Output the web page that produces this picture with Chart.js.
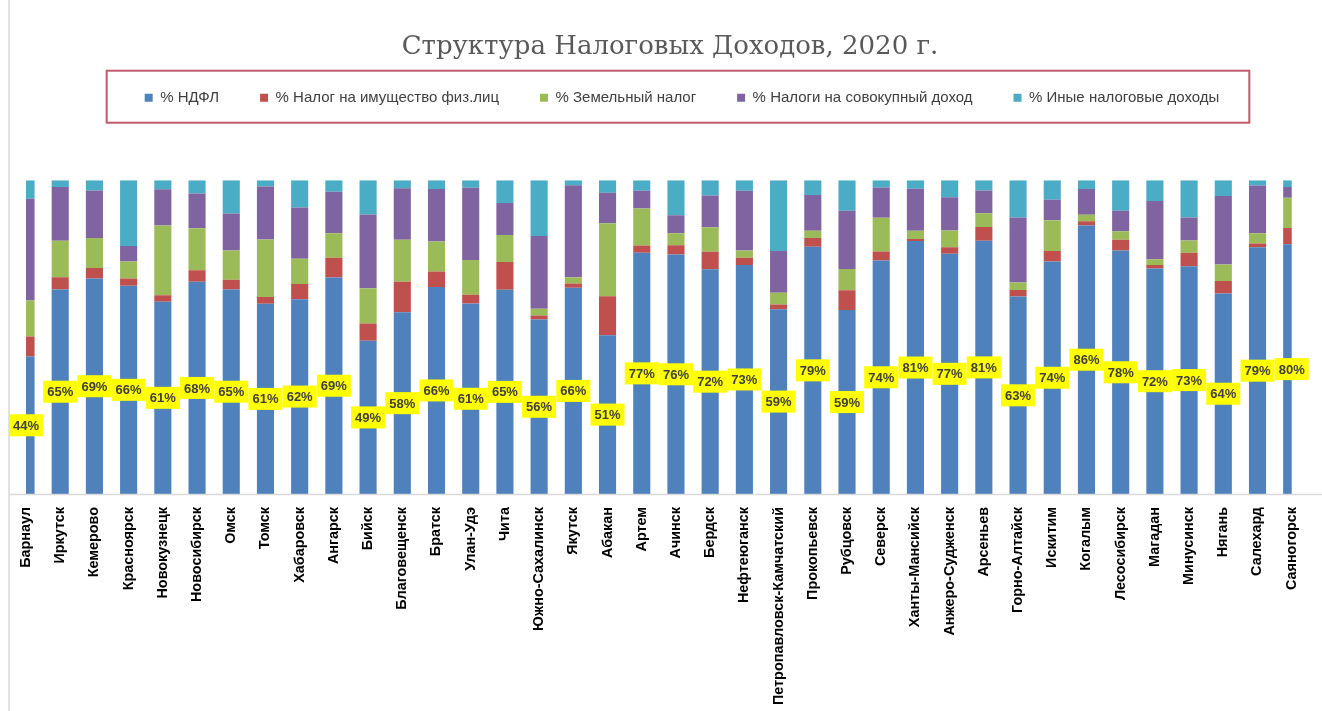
<!DOCTYPE html>
<html lang="ru">
<head>
<meta charset="utf-8">
<title>Структура налоговых доходов, 2020</title>
<script src="https://cdn.jsdelivr.net/npm/chart.js@4.4.0/dist/chart.umd.min.js"></script>
<style>
  html, body { margin: 0; padding: 0; background: #fff; }
  #wrap { width: 1322px; height: 711px; }
</style>
</head>
<body>
<div id="wrap"><canvas id="taxChart" width="1322" height="711"></canvas></div>
<script>
const cities = ['Барнаул', 'Иркутск', 'Кемерово', 'Красноярск', 'Новокузнецк', 'Новосибирск', 'Омск', 'Томск',
  'Хабаровск', 'Ангарск', 'Бийск', 'Благовещенск', 'Братск', 'Улан-Удэ', 'Чита', 'Южно-Сахалинск', 'Якутск',
  'Абакан', 'Артем', 'Ачинск', 'Бердск', 'Нефтеюганск', 'Петропавловск-Камчатский', 'Прокопьевск', 'Рубцовск',
  'Северск', 'Ханты-Мансийск', 'Анжеро-Судженск', 'Арсеньев', 'Горно-Алтайск', 'Искитим', 'Когалым',
  'Лесосибирск', 'Магадан', 'Минусинск', 'Нягань', 'Салехард', 'Саяногорск'];

// shares of tax income, %
const ndfl = [43.8, 65.2, 68.7, 66.4, 61.3, 67.6, 65.2, 60.6, 62.1, 69.0, 48.8, 57.9, 66.0, 60.7, 65.1, 55.6, 65.7,
  50.6, 76.9, 76.3, 71.6, 73.0, 58.9, 78.8, 58.6, 74.4, 80.6, 76.6, 80.7, 62.9, 74.1, 85.6, 77.6, 71.9, 72.6, 63.9, 78.6, 79.6];
const propertyTax = [6.4, 3.9, 3.3, 2.3, 2.0, 3.7, 3.1, 2.2, 4.8, 6.3, 5.5, 9.7, 4.9, 2.8, 8.8, 1.3, 1.4,
  12.4, 2.3, 3.0, 5.6, 2.3, 1.5, 2.8, 6.3, 2.9, 0.7, 2.0, 4.4, 2.1, 3.3, 1.3, 3.4, 1.1, 4.3, 4.0, 1.2, 5.2];
const landTax = [11.5, 11.6, 9.6, 5.4, 22.3, 13.4, 9.3, 18.3, 8.1, 7.8, 11.3, 13.4, 9.6, 11.1, 8.6, 2.1, 2.0,
  23.3, 11.8, 3.8, 7.8, 2.3, 3.7, 2.3, 6.8, 10.7, 2.6, 5.4, 4.4, 2.4, 9.8, 2.1, 2.7, 1.8, 3.9, 5.2, 3.3, 9.6];
const aggregateIncome = [32.4, 17.1, 15.1, 4.9, 11.5, 11.1, 11.8, 16.9, 16.3, 13.2, 23.5, 16.4, 16.7, 23.0, 10.2, 23.2, 29.3,
  9.7, 5.6, 5.7, 10.1, 19.0, 13.3, 11.4, 18.6, 9.7, 13.4, 10.6, 7.2, 20.7, 6.6, 8.2, 6.6, 18.6, 7.3, 21.9, 15.2, 3.4];
const otherTax = [5.9, 2.2, 3.3, 21.0, 2.9, 4.2, 10.6, 2.0, 8.7, 3.7, 10.9, 2.6, 2.8, 2.4, 7.3, 17.8, 1.6,
  4.0, 3.4, 11.2, 4.9, 3.4, 22.6, 4.7, 9.7, 2.3, 2.7, 5.4, 3.3, 11.9, 6.2, 2.8, 9.7, 6.6, 11.9, 5.0, 1.7, 2.2];

// yellow percent labels on the NDFL segment
const ndflLabels = {
  id: 'ndflLabels',
  afterDatasetsDraw(chart) {
    const ctx = chart.ctx;
    const meta = chart.getDatasetMeta(0);
    ctx.save();
    ctx.font = 'bold 13px "Liberation Sans", Arial, sans-serif';
    ctx.textAlign = 'center';
    ctx.textBaseline = 'middle';
    meta.data.forEach((bar, i) => {
      const { x, y, base } = bar.getProps(['x', 'y', 'base'], true);
      const cy = (y + base) / 2;
      const text = Math.round(ndfl[i]) + '%';
      const w = ctx.measureText(text).width + 8;
      ctx.fillStyle = '#ffff00';
      ctx.fillRect(x - w / 2, cy - 11, w, 22);
      ctx.fillStyle = '#404040';
      ctx.fillText(text, x, cy + 1);
    });
    ctx.restore();
  }
};

// nudge the legend a bit to the right, like in the original
const legendShift = {
  id: 'legendShift',
  afterLayout(chart) {
    chart.legend.left += 12;
    chart.legend.right += 12;
  }
};

// frame around the legend and the chart border lines
const frames = {
  id: 'frames',
  afterDraw(chart) {
    const ctx = chart.ctx;
    const boxes = chart.legend.legendHitBoxes;
    ctx.save();
    if (boxes && boxes.length) {
      const left = Math.min(...boxes.map(b => b.left)) - 38;
      const right = Math.max(...boxes.map(b => b.left + b.width)) + 30;
      const mid = boxes[0].top + boxes[0].height / 2;
      ctx.strokeStyle = '#c05a6c';
      ctx.lineWidth = 2;
      ctx.strokeRect(left, mid - 27, right - left, 52);
    }
    ctx.strokeStyle = '#d9d9d9';
    ctx.lineWidth = 1.5;
    ctx.beginPath();
    ctx.moveTo(9, 0);
    ctx.lineTo(9, chart.height);
    ctx.moveTo(9, chart.chartArea.bottom + 0.5);
    ctx.lineTo(chart.width, chart.chartArea.bottom + 0.5);
    ctx.stroke();
    ctx.restore();
  }
};

const ctx = document.getElementById('taxChart').getContext('2d');
new Chart(ctx, {
  type: 'bar',
  data: {
    labels: cities,
    datasets: [
      { label: '% НДФЛ', data: ndfl, backgroundColor: '#4f81bd' },
      { label: '% Налог на имущество физ.лиц', data: propertyTax, backgroundColor: '#c0504d' },
      { label: '% Земельный налог', data: landTax, backgroundColor: '#9bbb59' },
      { label: '% Налоги на совокупный доход', data: aggregateIncome, backgroundColor: '#8064a2' },
      { label: '% Иные налоговые доходы', data: otherTax, backgroundColor: '#4bacc6' }
    ]
  },
  options: {
    responsive: false,
    animation: false,
    layout: { padding: { left: 26, right: 8, top: 0, bottom: 0 } },
    datasets: {
      bar: { borderWidth: 0, barPercentage: 0.5, categoryPercentage: 1, clip: 0 }
    },
    plugins: {
      title: {
        display: true,
        text: 'Структура Налоговых Доходов, 2020 г.',
        color: '#595959',
        font: { family: '"DejaVu Serif", serif', size: 26, weight: 'normal' },
        padding: { top: 32, bottom: -14 }
      },
      subtitle: {
        display: true,
        text: ' ',
        weight: 500,
        font: { size: 10 },
        padding: { top: 53, bottom: 0 }
      },
      legend: {
        display: true,
        position: 'top',
        labels: {
          boxWidth: 8,
          boxHeight: 8,
          padding: 41,
          color: '#404040',
          font: { family: '"Liberation Sans", Arial, sans-serif', size: 15 }
        }
      },
      tooltip: { enabled: false }
    },
    scales: {
      x: {
        stacked: true,
        offset: false,
        grid: { display: false, drawTicks: false },
        border: { display: false },
        ticks: {
          autoSkip: false,
          minRotation: 90,
          maxRotation: 90,
          padding: 13,
          color: '#000',
          font: { family: '"Liberation Sans", Arial, sans-serif', size: 14.4, weight: 'bold' }
        },
        afterFit: (scale) => { scale.height = 217; }
      },
      y: {
        stacked: true,
        min: 0,
        max: 100,
        display: false
      }
    }
  },
  plugins: [ndflLabels, legendShift, frames]
});
</script>
</body>
</html>
